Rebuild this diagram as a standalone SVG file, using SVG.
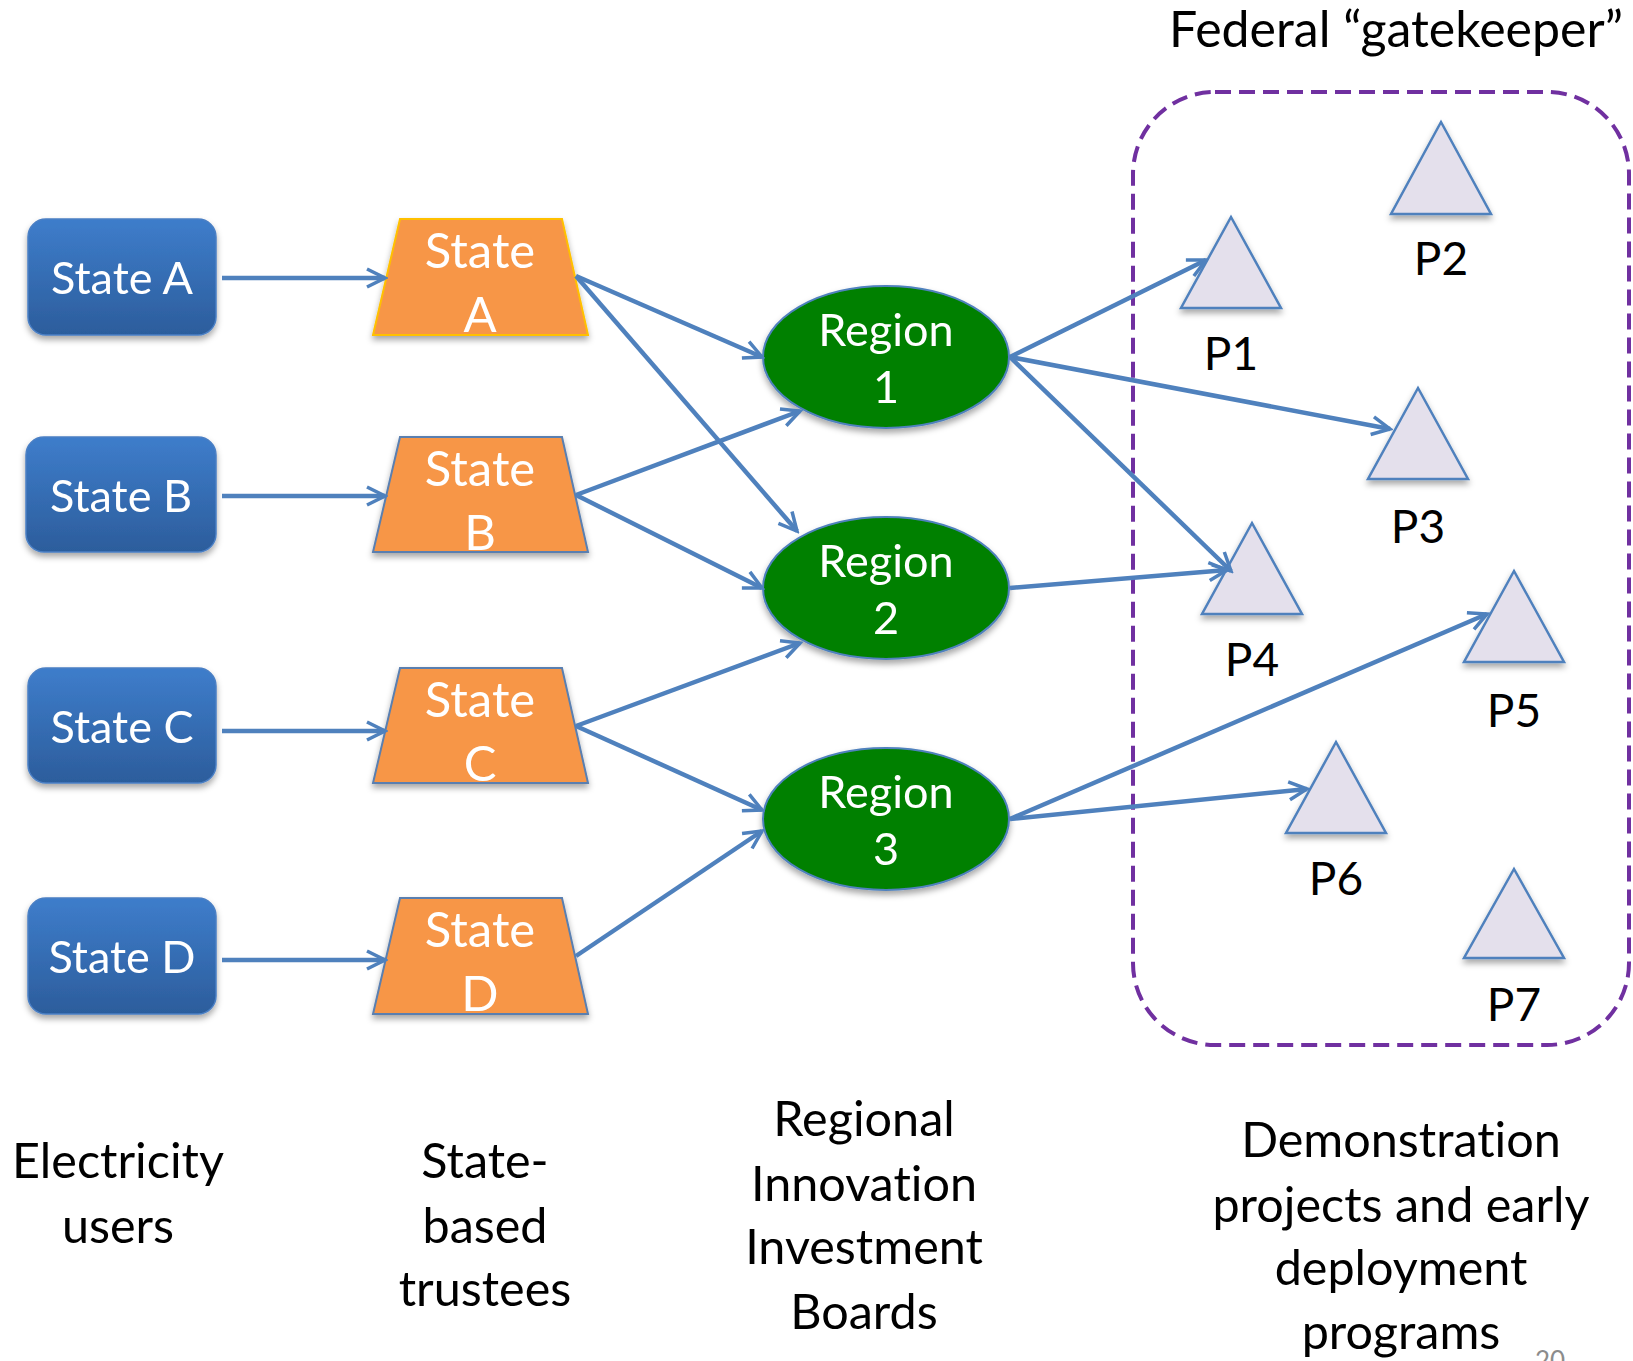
<svg xmlns="http://www.w3.org/2000/svg" width="1633" height="1361" viewBox="0 0 1633 1361">
<style>
text{font-family:Lato,"Open Sans","Liberation Sans",sans-serif;font-variant-ligatures:none;font-feature-settings:"liga" 0,"dlig" 0}
.w{fill:#fff;font-size:45px;text-anchor:middle}
.t{font-size:49px}
.k{fill:#000;font-size:46px;text-anchor:middle}
.b{font-size:48.5px}
.box{fill:url(#gb);stroke:#4a7fc4;stroke-width:1.5}
.trap{fill:#F79646;stroke:#5a7fb0;stroke-width:2}
.reg{fill:#008000;stroke:#4F81BD;stroke-width:2}
.tri{fill:#E4E0EC;stroke:#4F81BD;stroke-width:2.5}
.c{fill:none;stroke:#4F81BD;stroke-width:4.5}
</style>
<defs>
<linearGradient id="gb" x1="0" y1="0" x2="0" y2="1">
<stop offset="0" stop-color="#3e7dcb"/>
<stop offset="1" stop-color="#2c5d9c"/>
</linearGradient>
<filter id="sh" x="-20%" y="-20%" width="140%" height="150%">
<feDropShadow dx="0" dy="4" stdDeviation="3" flood-color="#000" flood-opacity="0.35"/>
</filter>
<marker id="arr" viewBox="0 0 24 24" refX="21" refY="12" markerWidth="24" markerHeight="24" markerUnits="userSpaceOnUse" orient="auto">
<path d="M3,3 L21,12 L3,21" fill="none" stroke="#4F81BD" stroke-width="3.5"/>
</marker>
</defs>
<rect width="1633" height="1361" fill="#fff"/>

<text class="k" x="1396" y="47" style="font-size:50px">Federal “gatekeeper”</text>
<rect id="gatekeeper" x="1133" y="92" width="496" height="953" rx="82" fill="none" stroke="#7030A0" stroke-width="4" stroke-dasharray="16 8"/>

<g id="stateA-user" filter="url(#sh)"><rect class="box" x="28" y="219" width="188" height="116" rx="18"/><text class="w" x="122" y="294">State A</text></g>
<g id="stateB-user" filter="url(#sh)"><rect class="box" x="26" y="437" width="190" height="115" rx="18"/><text class="w" x="121" y="512">State B</text></g>
<g id="stateC-user" filter="url(#sh)"><rect class="box" x="28" y="668" width="188" height="115" rx="18"/><text class="w" x="122" y="743">State C</text></g>
<g id="stateD-user" filter="url(#sh)"><rect class="box" x="28" y="898" width="188" height="116" rx="18"/><text class="w" x="122" y="973">State D</text></g>

<g id="stateA-trustee" filter="url(#sh)"><polygon class="trap" style="stroke:#FFC000" points="400,219 562,219 588,335 373,335"/><text class="w t" x="480" y="268">State</text><text class="w t" x="480" y="332">A</text></g>
<g id="stateB-trustee" filter="url(#sh)"><polygon class="trap" points="400,437 562,437 588,552 373,552"/><text class="w t" x="480" y="486">State</text><text class="w t" x="480" y="550">B</text></g>
<g id="stateC-trustee" filter="url(#sh)"><polygon class="trap" points="400,668 562,668 588,783 373,783"/><text class="w t" x="480" y="717">State</text><text class="w t" x="480" y="781">C</text></g>
<g id="stateD-trustee" filter="url(#sh)"><polygon class="trap" points="400,898 562,898 588,1014 373,1014"/><text class="w t" x="480" y="947">State</text><text class="w t" x="480" y="1011">D</text></g>

<g id="region1" filter="url(#sh)"><ellipse class="reg" cx="886" cy="357" rx="123" ry="71"/><text class="w" x="886" y="346">Region</text><text class="w" x="886" y="403">1</text></g>
<g id="region2" filter="url(#sh)"><ellipse class="reg" cx="886" cy="588" rx="123" ry="71"/><text class="w" x="886" y="577">Region</text><text class="w" x="886" y="634">2</text></g>
<g id="region3" filter="url(#sh)"><ellipse class="reg" cx="886" cy="819" rx="123" ry="71"/><text class="w" x="886" y="808">Region</text><text class="w" x="886" y="865">3</text></g>

<g id="P1"><polygon class="tri" filter="url(#sh)" points="1231,217 1281,308 1181,308"/><text class="k" x="1231" y="370">P1</text></g>
<g id="P2"><polygon class="tri" filter="url(#sh)" points="1441,122 1491,214 1391,214"/><text class="k" x="1441" y="275">P2</text></g>
<g id="P3"><polygon class="tri" filter="url(#sh)" points="1418,388 1468,479 1368,479"/><text class="k" x="1418" y="543">P3</text></g>
<g id="P4"><polygon class="tri" filter="url(#sh)" points="1252,523 1302,614 1202,614"/><text class="k" x="1252" y="676">P4</text></g>
<g id="P5"><polygon class="tri" filter="url(#sh)" points="1514,571 1564,662 1464,662"/><text class="k" x="1514" y="727">P5</text></g>
<g id="P6"><polygon class="tri" filter="url(#sh)" points="1336,742 1386,833 1286,833"/><text class="k" x="1336" y="895">P6</text></g>
<g id="P7"><polygon class="tri" filter="url(#sh)" points="1514,869 1564,958 1464,958"/><text class="k" x="1514" y="1021">P7</text></g>

<g id="connectors" marker-end="url(#arr)">
<line class="c" x1="222" y1="278" x2="385" y2="278"/>
<line class="c" x1="222" y1="496" x2="385" y2="496"/>
<line class="c" x1="222" y1="731" x2="385" y2="731"/>
<line class="c" x1="222" y1="960" x2="385" y2="960"/>
<line class="c" x1="576" y1="276" x2="762" y2="357"/>
<line class="c" x1="576" y1="276" x2="797" y2="531"/>
<line class="c" x1="576" y1="495" x2="800" y2="411"/>
<line class="c" x1="576" y1="495" x2="762" y2="588"/>
<line class="c" x1="576" y1="726" x2="800" y2="643"/>
<line class="c" x1="576" y1="726" x2="762" y2="810"/>
<line class="c" x1="576" y1="956" x2="762" y2="831"/>
<line class="c" x1="1010" y1="357" x2="1206" y2="260"/>
<line class="c" x1="1010" y1="357" x2="1390" y2="429"/>
<line class="c" x1="1010" y1="357" x2="1231" y2="571"/>
<line class="c" x1="1010" y1="588" x2="1227" y2="570"/>
<line class="c" x1="1010" y1="819" x2="1487" y2="614"/>
<line class="c" x1="1010" y1="819" x2="1307" y2="789"/>
</g>

<g id="labels">
<text class="k b" x="118" y="1178">Electricity</text>
<text class="k b" x="118" y="1243">users</text>
<text class="k b" x="485" y="1178">State-</text>
<text class="k b" x="485" y="1243">based</text>
<text class="k b" x="485" y="1306">trustees</text>
<text class="k b" x="864" y="1136">Regional</text>
<text class="k b" x="864" y="1201">Innovation</text>
<text class="k b" x="864" y="1264">Investment</text>
<text class="k b" x="864" y="1329">Boards</text>
<text class="k b" x="1401" y="1157">Demonstration</text>
<text class="k b" x="1401" y="1222">projects and early</text>
<text class="k b" x="1401" y="1285">deployment</text>
<text class="k b" x="1401" y="1349">programs</text>
<text x="1550" y="1370" font-size="26" fill="#8c8c8c" text-anchor="middle">20</text>
</g>
</svg>
